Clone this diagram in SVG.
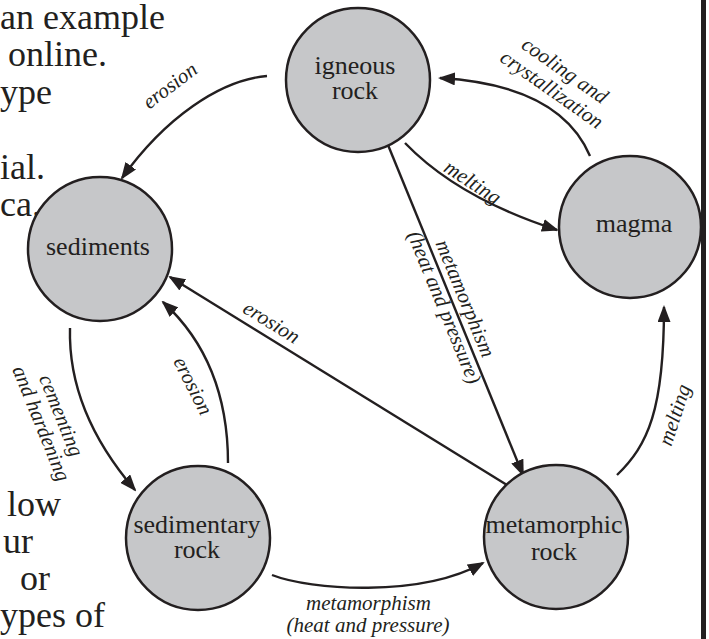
<svg xmlns="http://www.w3.org/2000/svg" width="709" height="639" viewBox="0 0 709 639">
<defs>
<style>
.bg{font-family:"Liberation Serif","Times New Roman",serif;font-size:36px;fill:#231f20}
.node circle{fill:#c6c7c9;stroke:#231f20;stroke-width:2.5}
.node text{font-family:"Liberation Serif","Times New Roman",serif;font-size:26px;fill:#231f20;text-anchor:middle}
.conn path{fill:none;stroke:#231f20;stroke-width:2.4;marker-end:url(#ah)}
.lbl{font-family:"Liberation Serif","Times New Roman",serif;font-style:italic;font-size:21px;fill:#231f20;text-anchor:middle}
</style>
<marker id="ah" viewBox="0 0 17 13" refX="15" refY="6.5" markerWidth="17" markerHeight="13" markerUnits="userSpaceOnUse" orient="auto">
<path d="M0,0 L17,6.5 L0,13 Z" fill="#231f20"/>
</marker>
</defs>
<rect width="709" height="639" fill="#fff"/>
<g id="page-text" class="bg">
<text x="0" y="29">an example</text>
<text x="8" y="66">online.</text>
<text x="0" y="104">ype</text>
<text x="0" y="179">ial.</text>
<text x="0" y="216">ca.</text>
<text x="7" y="516">low</text>
<text x="3" y="553">ur</text>
<text x="20" y="590">or</text>
<text x="0" y="627">ypes of</text>
</g>
<rect id="border" x="701" y="0" width="5" height="639" fill="#231f20"/>
<g id="connectors" class="conn">
<path d="M267,76 C220,80 165,118 122,178"/>
<path d="M590,156 Q560,85 440,78"/>
<path d="M405,143 Q458,198 557,230"/>
<path d="M388,145 L523,475"/>
<path d="M507,485 L170,277"/>
<path d="M70,328 C68,400 105,455 135,490"/>
<path d="M228,463 C228,400 210,345 163,302"/>
<path d="M272,575 C310,590 420,598 483,563"/>
<path d="M617,475 C648,445 664,410 664,307"/>
</g>
<g id="labels">
<text class="lbl" transform="translate(174,91) rotate(-37)">erosion</text>
<text class="lbl" transform="translate(561,76) rotate(35)">cooling and</text>
<text class="lbl" transform="translate(548,95) rotate(35)">crystallization</text>
<text class="lbl" transform="translate(469,188) rotate(33)">melting</text>
<text class="lbl" transform="translate(459,301) rotate(67.75)">metamorphism</text>
<text class="lbl" transform="translate(438,310) rotate(67.75)">(heat and pressure)</text>
<text class="lbl" transform="translate(268,328) rotate(31.7)">erosion</text>
<text class="lbl" transform="translate(55,418) rotate(68)">cementing</text>
<text class="lbl" transform="translate(35,426) rotate(68)">and hardening</text>
<text class="lbl" transform="translate(187,389) rotate(63)">erosion</text>
<text class="lbl" x="368.5" y="610">metamorphism</text>
<text class="lbl" x="368" y="632">(heat and pressure)</text>
<text class="lbl" transform="translate(681,417) rotate(-72)">melting</text>
</g>
<g id="igneous" class="node">
<circle cx="358" cy="80" r="72"/>
<text x="355" y="74">igneous</text>
<text x="355" y="99">rock</text>
</g>
<g id="sediments" class="node">
<circle cx="100" cy="249" r="72"/>
<text x="98" y="255">sediments</text>
</g>
<g id="magma" class="node">
<circle cx="630" cy="227" r="71"/>
<text x="634" y="232">magma</text>
</g>
<g id="sedimentary" class="node">
<circle cx="198" cy="538" r="72"/>
<text x="197" y="533">sedimentary</text>
<text x="197" y="558">rock</text>
</g>
<g id="metamorphic" class="node">
<circle cx="556" cy="537" r="72"/>
<text x="554" y="533">metamorphic</text>
<text x="554" y="560">rock</text>
</g>
</svg>
